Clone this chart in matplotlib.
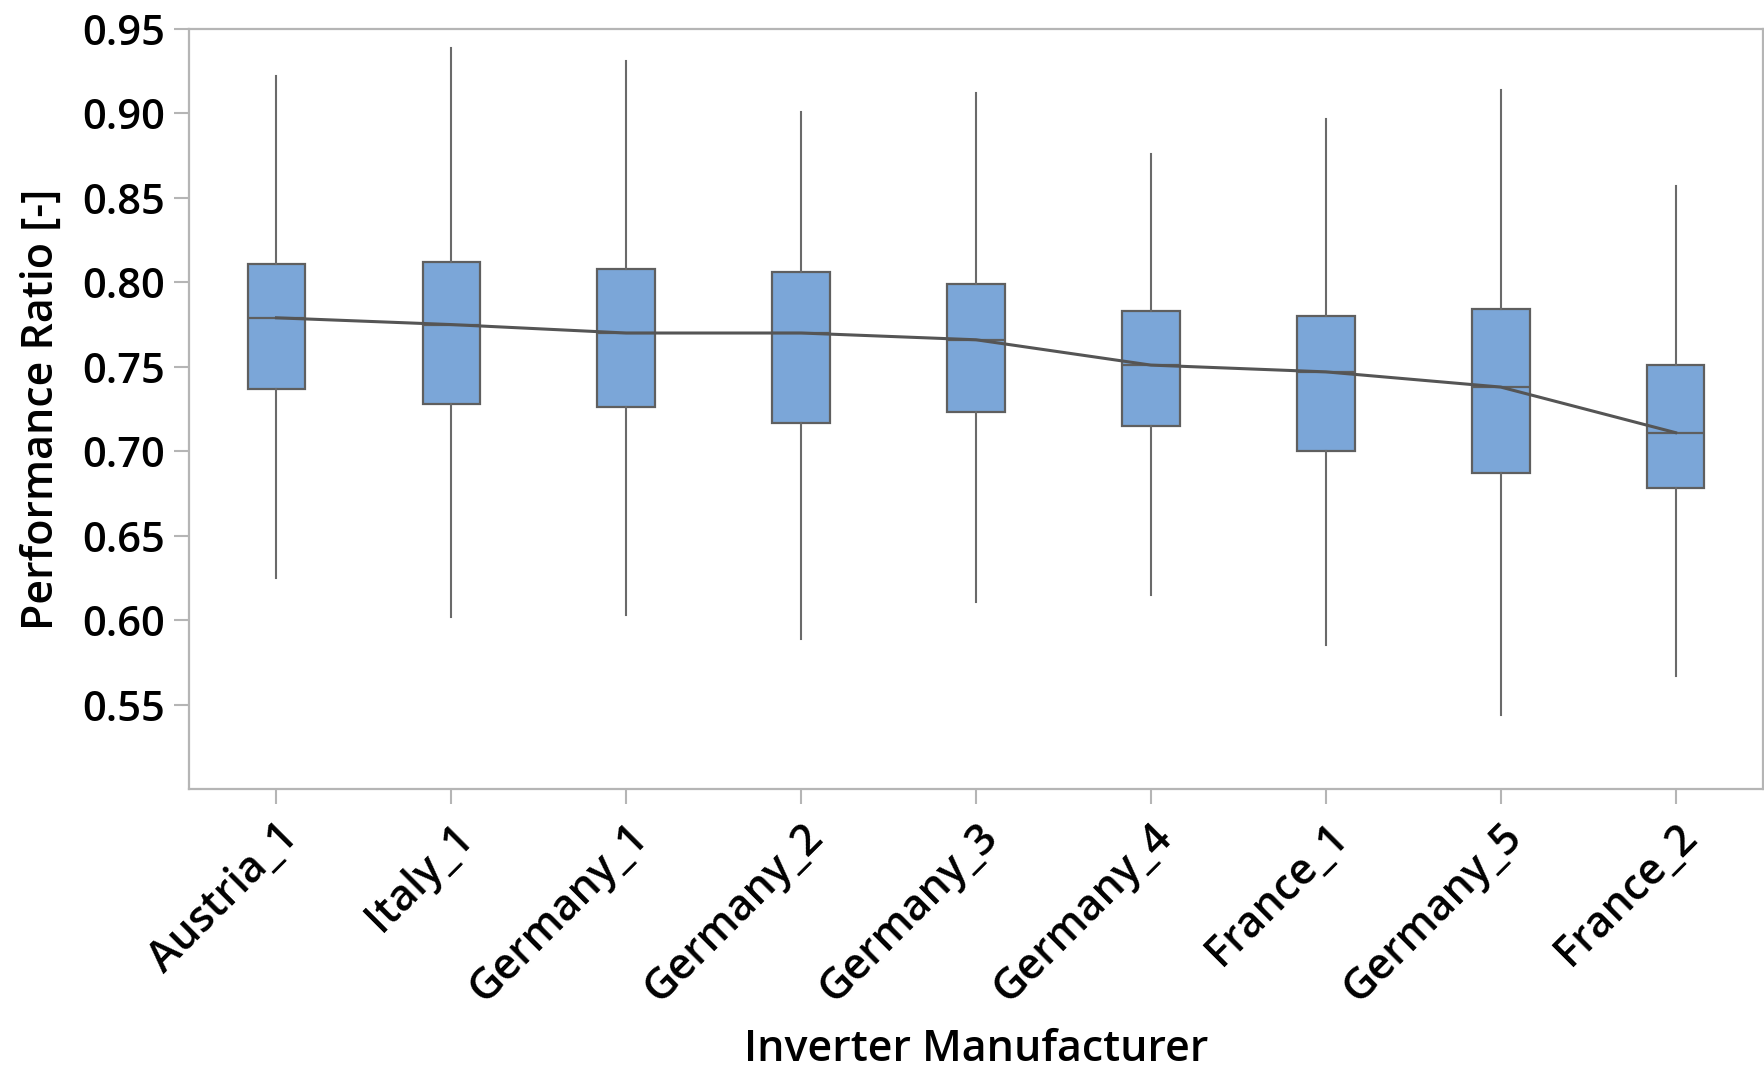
import matplotlib
matplotlib.use("Agg")
import matplotlib.pyplot as plt

plt.rcParams['font.family'] = ['Open Sans', 'DejaVu Sans']
plt.rcParams['font.weight'] = 'semibold'
plt.rcParams['axes.labelweight'] = 'semibold'

manufacturers = ["Austria_1", "Italy_1", "Germany_1", "Germany_2", "Germany_3",
                 "Germany_4", "France_1", "Germany_5", "France_2"]
whisker_high = [0.922, 0.939, 0.931, 0.901, 0.912, 0.876, 0.897, 0.914, 0.857]
q3 = [0.811, 0.812, 0.808, 0.806, 0.799, 0.783, 0.780, 0.784, 0.751]
median = [0.779, 0.775, 0.770, 0.770, 0.766, 0.751, 0.747, 0.738, 0.711]
q1 = [0.737, 0.728, 0.726, 0.717, 0.723, 0.715, 0.700, 0.687, 0.678]
whisker_low = [0.625, 0.602, 0.603, 0.589, 0.611, 0.615, 0.585, 0.544, 0.567]

yticks = [0.55, 0.60, 0.65, 0.70, 0.75, 0.80, 0.85, 0.90, 0.95]

fig = plt.figure(figsize=(17.65, 10.71), dpi=100)
ax = fig.add_axes([0.1071, 0.2633, 0.8918, 0.7096])

stats = []
for name, lo, a, m, b, hi in zip(manufacturers, whisker_low, q1, median, q3, whisker_high):
    stats.append(dict(label=name, whislo=lo, q1=a, med=m, q3=b, whishi=hi, fliers=[]))

positions = list(range(len(manufacturers)))
edge = "#5f5f5f"
ax.bxp(stats, positions=positions, widths=0.33, patch_artist=True, showcaps=False,
       boxprops=dict(facecolor="#7ba6d8", edgecolor=edge, linewidth=1.6),
       whiskerprops=dict(color="#6a6a6a", linewidth=1.5),
       medianprops=dict(color=edge, linewidth=1.6),
       capprops=dict(color=edge))

ax.plot(positions, median, color="#555555", linewidth=2.2, zorder=5)

ax.set_xlim(-0.5, len(manufacturers) - 0.5)
ax.set_ylim(0.50, 0.95)
ax.set_yticks(yticks)
ax.set_yticklabels([f"{v:.2f}" for v in yticks])
ax.set_xticks(positions)
ax.set_xticklabels(manufacturers, rotation=45, ha="right", va="top",
                   rotation_mode="anchor", fontsize=31)

for s in ax.spines.values():
    s.set_color("#b5b5b5")
    s.set_linewidth(1.6)
ax.tick_params(axis="both", colors="#b5b5b5", length=11, width=1.5,
               labelcolor="black")
ax.tick_params(axis="y", pad=6, labelsize=30)
ax.tick_params(axis="x", pad=8)

ax.set_ylabel("Performance Ratio [-]", fontsize=31, labelpad=14)
ax.set_xlabel("Inverter Manufacturer", fontsize=31, labelpad=12)

fig.savefig("out.png", dpi=100)
